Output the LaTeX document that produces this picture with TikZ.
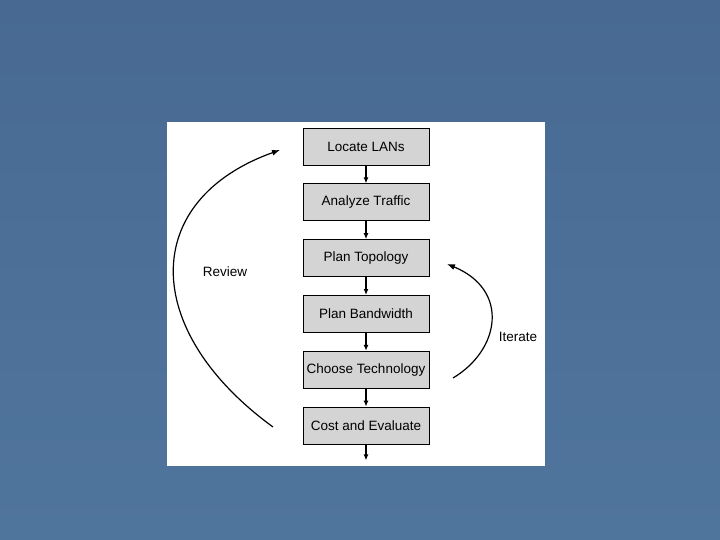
\documentclass[tikz,border=0pt]{standalone}
\usepackage{fontspec}
\setmainfont{Liberation Sans}
\usetikzlibrary{positioning,arrows.meta}
\definecolor{slide}{RGB}{80,117,157}
\definecolor{slidetop}{RGB}{72,106,146}
\definecolor{boxgray}{RGB}{212,212,212}
\tikzset{
  stage/.style={draw=black,line width=0.8pt,fill=boxgray,minimum width=126pt,minimum height=37pt,
    inner sep=0pt,font=\fontsize{13.5}{16}\selectfont},
  flow/.style={-{Latex[length=6pt,width=5pt]},line width=1.3pt},
  loop/.style={-{Latex[length=8pt,width=6pt]},line width=1.2pt},
  tag/.style={font=\fontsize{13.5}{16}\selectfont}
}
\begin{document}
\begin{tikzpicture}[x=1pt,y=-1pt]
\useasboundingbox (0,0) rectangle (720,540);
% slide background and white panel
\shade[top color=slidetop,bottom color=slide] (0,0) rectangle (720,540);
\fill[white] (167,122) rectangle (545,466);
% design steps
\node[stage] (lan) at (366,146.5) {Locate LANs};
\node[stage,below=18pt of lan] (traf) {Analyze Traffic};
\node[stage,below=18pt of traf] (topo) {Plan Topology};
\node[stage,below=18pt of topo] (bw) {Plan Bandwidth};
\node[stage,below=18pt of bw] (tech) {Choose Technology};
\node[stage,below=18pt of tech] (cost) {Cost and Evaluate};
\coordinate[below=16pt of cost] (out);
\draw[flow] (lan) -- (traf);
\draw[flow] (traf) -- (topo);
\draw[flow] (topo) -- (bw);
\draw[flow] (bw) -- (tech);
\draw[flow] (tech) -- (cost);
\draw[flow] (cost) -- (out);
% feedback loops
\coordinate (rv0) at (273,427);
\coordinate (rv1) at (280,150);
\coordinate (it0) at (453,378);
\coordinate (it1) at (447,264);
\draw[loop] (rv0) .. controls (140,330) and (140,200) .. (rv1);
\draw[loop] (it0) .. controls (500,350) and (510,290) .. (it1);
\node[tag] (review) at (225,272) {Review};
\node[tag] (iter) at (518,337) {Iterate};
\end{tikzpicture}
\end{document}
